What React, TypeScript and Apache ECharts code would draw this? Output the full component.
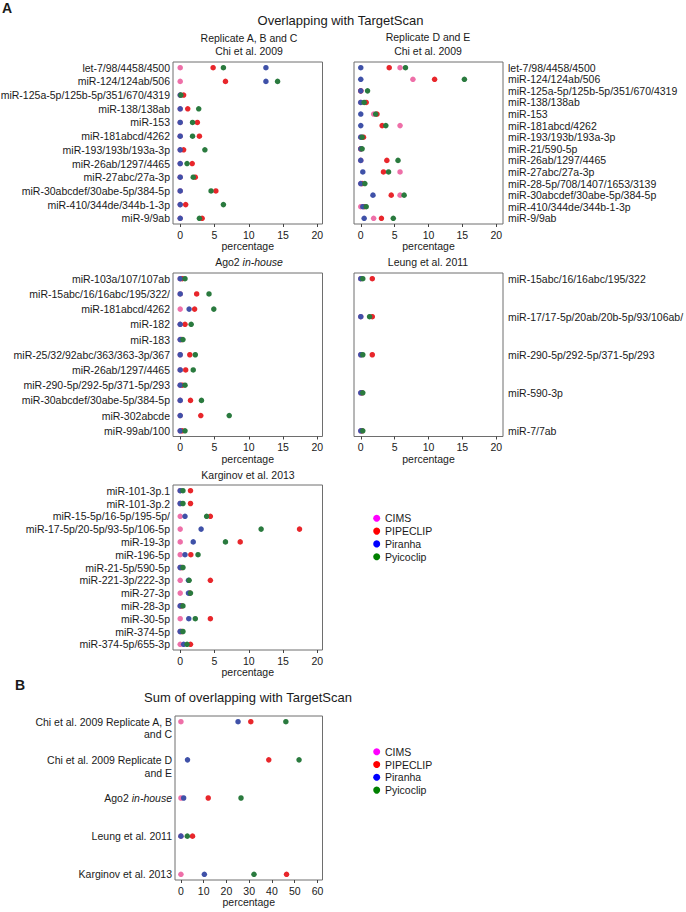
import React, { useEffect, useRef } from 'react';
import * as echarts from 'echarts';

const FONT = '"Liberation Sans", Arial, Helvetica, sans-serif';
const TXT = '#1a1a1a';

const seriesNames = ['CIMS', 'PIPECLIP', 'Piranha', 'Pyicoclip'];
const dotColors = ['#ee6fa8', '#e8262b', '#3f51a8', '#2a7a3e'];
const legendColors = ['#ff00ff', '#ff0000', '#0000ff', '#008000'];

const ticks20 = [0, 5, 10, 15, 20];
const ticks60 = [0, 10, 20, 30, 40, 50, 60];

// Replicate A, B and C (Chi et al. 2009)
const abcCats = ['let-7/98/4458/4500', 'miR-124/124ab/506', 'miR-125a-5p/125b-5p/351/670/4319', 'miR-138/138ab', 'miR-153', 'miR-181abcd/4262', 'miR-193/193b/193a-3p', 'miR-26ab/1297/4465', 'miR-27abc/27a-3p', 'miR-30abcdef/30abe-5p/384-5p', 'miR-410/344de/344b-1-3p', 'miR-9/9ab'];
const abcCIMS = [0, 0, 0, 0, 0, 0, 0, 0, 0, 0, 0, 0];
const abcPIPECLIP = [4.8, 6.6, 0.5, 1.1, 2.5, 2.8, 0.5, 1.75, 2.2, 5.2, 0.8, 3.2];
const abcPiranha = [12.5, 12.5, 0, 0, 0, 0, 0, 0, 0, 0, 0, 0];
const abcPyicoclip = [6.3, 14.2, 0.1, 2.7, 1.8, 1.8, 3.6, 1.0, 1.9, 4.5, 6.3, 2.8];

// Replicate D and E (Chi et al. 2009)
const deCats = ['let-7/98/4458/4500', 'miR-124/124ab/506', 'miR-125a-5p/125b-5p/351/670/4319', 'miR-138/138ab', 'miR-153', 'miR-181abcd/4262', 'miR-193/193b/193a-3p', 'miR-21/590-5p', 'miR-26ab/1297/4465', 'miR-27abc/27a-3p', 'miR-28-5p/708/1407/1653/3139', 'miR-30abcdef/30abe-5p/384-5p', 'miR-410/344de/344b-1-3p', 'miR-9/9ab'];
const deCIMS = [5.8, 7.7, 0, 0, 1.9, 5.8, 0, 0, 0, 5.8, 0, 5.8, 0, 1.9];
const dePIPECLIP = [4.2, 10.9, 0, 0.8, 2.4, 3.15, 0.4, 0, 3.85, 3.35, 0.2, 4.5, 0.5, 3.05];
const dePiranha = [0, 0, 0, 0, 0, 0, 0, 0, 0, 0.3, 0, 1.8, 0.3, 0.5];
const dePyicoclip = [6.6, 15.3, 1.0, 0.5, 2.2, 3.7, 0.2, 0.2, 5.5, 4.1, 0.6, 6.4, 0.8, 4.8];

// Ago2 in-house
const agoCats = ['miR-103a/107/107ab', 'miR-15abc/16/16abc/195/322/', 'miR-181abcd/4262', 'miR-182', 'miR-183', 'miR-25/32/92abc/363/363-3p/367', 'miR-26ab/1297/4465', 'miR-290-5p/292-5p/371-5p/293', 'miR-30abcdef/30abe-5p/384-5p', 'miR-302abcde', 'miR-99ab/100'];
const agoCIMS = [0, 0, 0, 0, 0, 0, 0, 0, 0, 0, 0];
const agoPIPECLIP = [0.3, 2.4, 2.1, 0.7, 0.2, 1.4, 0.8, 0.3, 1.5, 3.0, 0.3];
const agoPiranha = [0, 0, 1.3, 0, 0, 0, 0, 0, 0, 0, 0];
const agoPyicoclip = [0.7, 4.2, 4.9, 1.6, 0.4, 2.2, 1.9, 0.7, 3.1, 7.15, 0.7];

// Leung et al. 2011
const leungCats = ['miR-15abc/16/16abc/195/322', 'miR-17/17-5p/20ab/20b-5p/93/106ab/', 'miR-290-5p/292-5p/371-5p/293', 'miR-590-3p', 'miR-7/7ab'];
const leungCIMS = [0, 0, 0, 0, 0];
const leungPIPECLIP = [1.7, 1.7, 1.7, 0.2, 0.2];
const leungPiranha = [0, 0, 0, 0, 0];
const leungPyicoclip = [0.3, 1.3, 0.3, 0.3, 0.3];

// Karginov et al. 2013
const karCats = ['miR-101-3p.1', 'miR-101-3p.2', 'miR-15-5p/16-5p/195-5p/', 'miR-17-5p/20-5p/93-5p/106-5p', 'miR-19-3p', 'miR-196-5p', 'miR-21-5p/590-5p', 'miR-221-3p/222-3p', 'miR-27-3p', 'miR-28-3p', 'miR-30-5p', 'miR-374-5p', 'miR-374-5p/655-3p'];
const karCIMS = [0, 0, 0, 0, 0, 0, 0, 0, 0, 0, 0, 0, 0];
const karPIPECLIP = [1.5, 1.5, 4.4, 17.4, 8.75, 1.55, 0.2, 4.4, 1.4, 0.2, 4.4, 0.2, 1.5];
const karPiranha = [0, 0, 0.7, 3.05, 1.9, 0.7, 0, 1.2, 1.2, 0, 1.25, 0, 0.5];
const karPyicoclip = [0.4, 0.4, 3.85, 11.8, 6.6, 2.6, 0.4, 1.3, 1.5, 0.4, 2.2, 0.4, 1.0];

// B: Sum of overlapping with TargetScan
const sumCats = ['Chi et al. 2009 Replicate A, B\nand C', 'Chi et al. 2009 Replicate D\nand E', 'Ago2 in-house', 'Leung et al. 2011', 'Karginov et al. 2013'];
const sumCIMS: (number | null)[] = [0, null, 0, 0, 0];
const sumPIPECLIP = [30.7, 38.6, 12.0, 5.1, 46.4];
const sumPiranha = [25.1, 2.9, 1.2, 0, 10.3];
const sumPyicoclip = [46.1, 51.9, 26.4, 2.8, 32.1];

type Panel = {
  cats: string[];
  vals: (number | null)[][];
  left: number; top: number; width: number; height: number;
  xMin: number; xMax: number; ticks: number[];
  side: 'left' | 'right';
};

const panels: Panel[] = [
  { cats: abcCats, vals: [abcCIMS, abcPIPECLIP, abcPiranha, abcPyicoclip], left: 173, top: 62, width: 149.5, height: 162, xMin: -1.05, xMax: 20.75, ticks: ticks20, side: 'left' },
  { cats: deCats, vals: [deCIMS, dePIPECLIP, dePiranha, dePyicoclip], left: 354, top: 62, width: 149, height: 162, xMin: -1, xMax: 21, ticks: ticks20, side: 'right' },
  { cats: agoCats, vals: [agoCIMS, agoPIPECLIP, agoPiranha, agoPyicoclip], left: 173, top: 273, width: 149.5, height: 163.5, xMin: -1.05, xMax: 20.75, ticks: ticks20, side: 'left' },
  { cats: leungCats, vals: [leungCIMS, leungPIPECLIP, leungPiranha, leungPyicoclip], left: 354, top: 273, width: 149, height: 163.5, xMin: -1, xMax: 21, ticks: ticks20, side: 'right' },
  { cats: karCats, vals: [karCIMS, karPIPECLIP, karPiranha, karPyicoclip], left: 173, top: 485, width: 149.5, height: 165, xMin: -1.05, xMax: 20.75, ticks: ticks20, side: 'left' },
  { cats: sumCats, vals: [sumCIMS, sumPIPECLIP, sumPiranha, sumPyicoclip], left: 175, top: 716, width: 147.5, height: 164, xMin: -2.6, xMax: 62.2, ticks: ticks60, side: 'left' },
];

const PAD_PX = 5.7;

function labelFormatter(cats: string[]) {
  return (v: number) => {
    const c = cats[Math.round(v)] ?? '';
    let s = c.replace('in-house', '{i|in-house}');
    if (s.includes('\n')) s = ' \n' + s;
    return s;
  };
}

function textEl(text: string, x: number, y: number, size: number, opts: any = {}) {
  return {
    type: 'text',
    x,
    y,
    silent: true,
    style: {
      text,
      fill: TXT,
      fontSize: size,
      fontFamily: FONT,
      fontWeight: opts.bold ? 'bold' : 'normal',
      align: opts.align || 'center',
      verticalAlign: 'middle',
      textAlign: opts.align || 'center',
      textVerticalAlign: 'middle',
      rich: {
        i: { fontStyle: 'italic', fontSize: size, fontFamily: FONT, fill: TXT },
      },
    },
  };
}

export default function App() {
  const ref = useRef<HTMLDivElement>(null);

  useEffect(() => {
    if (!ref.current) return;
    const chart = echarts.init(ref.current, undefined, { renderer: 'svg', width: 686, height: 912 });

    const grid = panels.map((p) => ({
      left: p.left,
      top: p.top,
      width: p.width,
      height: p.height,
      show: true,
      backgroundColor: '#ffffff',
      borderColor: '#6e6e6e',
      borderWidth: 1,
      containLabel: false,
      outerBoundsMode: 'none',
    }));

    const xAxis = panels.map((p, i) => ({
      type: 'value',
      gridIndex: i,
      position: 'bottom',
      min: p.xMin,
      max: p.xMax,
      axisLine: { show: false, onZero: false },
      splitLine: { show: false },
      axisTick: { show: true, customValues: p.ticks, length: 3, lineStyle: { color: '#444', width: 1 } },
      axisLabel: { customValues: p.ticks, margin: 5, fontSize: 10.5, fontFamily: FONT, color: TXT },
      name: 'percentage',
      nameLocation: 'middle',
      nameGap: 16,
      nameTextStyle: { fontSize: 10.5, fontFamily: FONT, color: TXT },
    }));

    const yAxis = panels.map((p, i) => {
      const n = p.cats.length;
      const pad = (PAD_PX * (n - 1)) / (p.height - 2 * PAD_PX);
      return {
        type: 'value',
        gridIndex: i,
        inverse: true,
        position: p.side,
        min: -pad,
        max: n - 1 + pad,
        axisLine: { show: false, onZero: false },
        axisTick: { show: false },
        splitLine: { show: false },
        axisLabel: {
          customValues: p.cats.map((_, j) => j),
          formatter: labelFormatter(p.cats),
          showMinLabel: true,
          showMaxLabel: true,
          hideOverlap: false,
          margin: p.side === 'left' ? 3 : 5,
          fontSize: 10.5,
          fontFamily: FONT,
          color: TXT,
          lineHeight: n > 6 ? 10.5 : 12.7,
          rich: {
            i: { fontStyle: 'italic', fontSize: 10.5, fontFamily: FONT, color: TXT },
          },
        },
      };
    });

    const series: any[] = [];
    panels.forEach((p, i) => {
      p.vals.forEach((vals, s) => {
        const data: number[][] = [];
        vals.forEach((v, j) => {
          if (v !== null && v !== undefined) data.push([v, j]);
        });
        series.push({
          type: 'scatter',
          name: seriesNames[s],
          xAxisIndex: i,
          yAxisIndex: i,
          data,
          symbol: 'circle',
          symbolSize: 5.5,
          itemStyle: { color: dotColors[s], opacity: 1 },
          silent: true,
          z: 2 + s,
        });
      });
    });

    const legendEls = (y0: number) => {
      const els: any[] = [];
      seriesNames.forEach((name, k) => {
        const cy = y0 + k * 12.8;
        els.push({ type: 'circle', silent: true, shape: { cx: 376.7, cy, r: 3.5 }, style: { fill: legendColors[k] } });
        els.push(textEl(name, 385, cy, 10.5, { align: 'left' }));
      });
      return els;
    };

    const graphic = [
      textEl('A', 2, 8, 14, { bold: true, align: 'left' }),
      textEl('Overlapping with TargetScan', 340.5, 20, 13),
      textEl('Replicate A, B and C', 249, 37.7, 10.5),
      textEl('Chi et al. 2009', 249, 50.7, 10.5),
      textEl('Replicate D and E', 428, 36.7, 10.5),
      textEl('Chi et al. 2009', 428, 50.7, 10.5),
      textEl('Ago2 {i|in-house}', 249, 261.7, 10.5),
      textEl('Leung et al. 2011', 428, 261.7, 10.5),
      textEl('Karginov et al. 2013', 248, 475, 10.5),
      ...legendEls(518.3),
      textEl('B', 15, 685, 14, { bold: true, align: 'left' }),
      textEl('Sum of overlapping with TargetScan', 248, 697, 13),
      ...legendEls(751.7),
    ];

    chart.setOption({
      animation: false,
      backgroundColor: '#ffffff',
      textStyle: { fontFamily: FONT },
      grid,
      xAxis,
      yAxis,
      series,
      graphic,
    });

    return () => {
      chart.dispose();
    };
  }, []);

  return (
    <div
      ref={ref}
      style={{ position: 'absolute', left: 0, top: 0, width: 686, height: 912, background: '#fff' }}
    />
  );
}
